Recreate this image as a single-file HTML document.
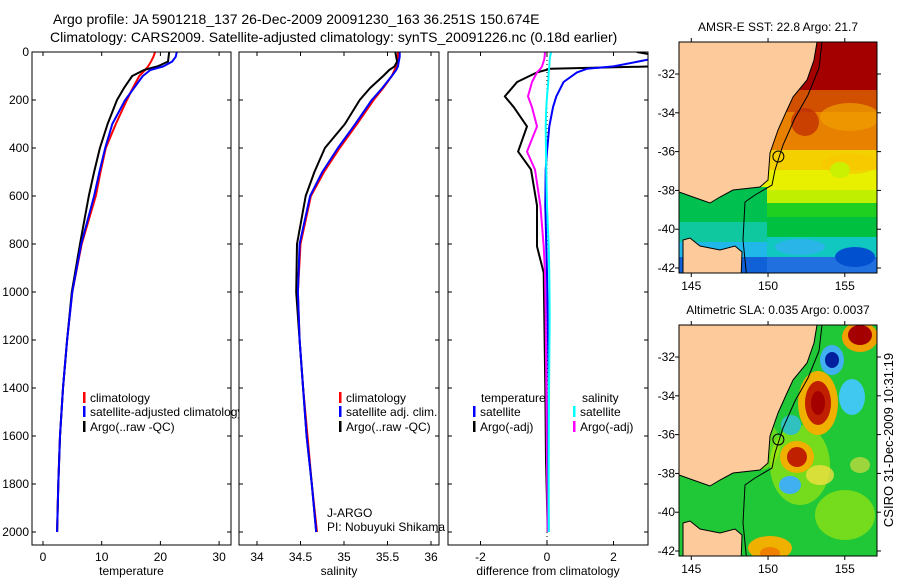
<!DOCTYPE html>
<html><head><meta charset="utf-8"><style>
html,body{margin:0;padding:0;background:#fff;}
svg{display:block;font-family:"Liberation Sans",sans-serif;}
</style></head><body>
<svg id="fig" width="900" height="580" viewBox="0 0 900 580" xmlns="http://www.w3.org/2000/svg">
<rect x="0" y="0" width="900" height="580" fill="#fff"/>
<text x="53" y="24" font-size="14">Argo profile: JA 5901218_137 26-Dec-2009 20091230_163 36.251S 150.674E</text>
<text x="50" y="42" font-size="14">Climatology: CARS2009. Satellite-adjusted climatology: synTS_20091226.nc (0.18d earlier)</text>
<g id="charts"></g>
<g id="maps"></g>
<text x="893" y="440" font-size="13" text-anchor="middle" transform="rotate(-90 893 440)">CSIRO 31-Dec-2009 10:31:19</text>
</svg>
<script>
// ---- data ----
const depths = [0, 20, 40, 60, 75, 100, 150, 200, 300, 400, 500, 600, 800, 1000, 1200, 1400, 1600, 1800, 2000];
const tempClim = [19.1, 18.8, 18.4, 17.9, 17.4, 16.4, 15.3, 14.3, 12.4, 10.7, 9.8, 9.0, 6.6, 5.0, 4.1, 3.4, 2.9, 2.6, 2.4];
const tempSat = [22.8, 22.6, 22.0, 20.5, 18.3, 17.0, 15.5, 14.0, 11.8, 10.6, 9.6, 8.7, 6.5, 5.0, 4.1, 3.4, 2.9, 2.6, 2.4];
const tempArgo = [21.5, 21.4, 21.3, 19.5, 17.2, 15.2, 13.8, 12.6, 11.0, 9.7, 8.7, 7.8, 6.3, 4.9, 4.1, 3.4, 2.9, 2.6, 2.4];
const salClim = [35.62, 35.62, 35.61, 35.6, 35.58, 35.55, 35.45, 35.34, 35.15, 34.95, 34.77, 34.62, 34.5, 34.47, 34.49, 34.53, 34.58, 34.63, 34.69];
const salSat = [35.64, 35.64, 35.63, 35.62, 35.6, 35.55, 35.44, 35.32, 35.13, 34.93, 34.75, 34.61, 34.49, 34.47, 34.49, 34.53, 34.57, 34.63, 34.68];
const salArgo = [35.59, 35.6, 35.61, 35.58, 35.52, 35.45, 35.3, 35.18, 35.01, 34.78, 34.66, 34.56, 34.46, 34.45, 34.49, 34.53, 34.57, 34.63, 34.68];
const diffDepths = [0, 15, 30, 60, 70, 85, 125, 185, 230, 310, 415, 490, 640, 810, 920, 1100, 1400, 1700, 2000];
const dTempSat = [3.4, 3.3, 3.1, 2.0, 1.2, 0.9, 0.5, 0.28, 0.18, 0.07, 0.0, -0.04, -0.05, -0.02, 0.0, 0.02, 0.05, 0.04, 0.05];
const dTempArgo = [2.7, 3.3, 3.3, 3.2, 0.1, -0.3, -0.9, -1.27, -1.0, -0.6, -0.87, -0.48, -0.3, -0.3, -0.1, -0.08, -0.05, -0.03, 0.02];
const dSalSat = [0.12, 0.1, 0.08, 0.07, 0.06, 0.05, 0.04, 0.0, -0.02, -0.04, -0.03, -0.02, 0.0, 0.05, 0.07, 0.08, 0.06, 0.05, 0.05];
const dSalArgo = [-0.06, -0.07, -0.08, -0.15, -0.2, -0.3, -0.45, -0.57, -0.45, -0.3, -0.6, -0.36, -0.2, -0.1, -0.06, -0.04, -0.02, 0.0, 0.02];
const depthTicks = [0, 200, 400, 600, 800, 1000, 1200, 1400, 1600, 1800, 2000];
const tempTicks = [0, 10, 20, 30];
const salTicks = [34, 34.5, 35, 35.5, 36];
const salTickLabels = ["34", "34.5", "35", "35.5", "36"];
const diffTicks = [-2, 0, 2];
const lonTicks = [145, 150, 155];
const latTicks = [-32, -34, -36, -38, -40, -42];

const NS = "http://www.w3.org/2000/svg";
function mk(tag, attrs, parent) {
  const e = document.createElementNS(NS, tag);
  for (const k in attrs) e.setAttribute(k, attrs[k]);
  parent.appendChild(e);
  return e;
}
const charts = document.getElementById('charts');
const yD = d => 52 + d * 0.24;
const TOP = 52, BOT = 545;

function panel(name, x0, x1, xf, ticks, labels, xlabel, showY) {
  const g = mk('g', {}, charts);
  
  
  const bg = mk('rect', {x: x0, y: TOP, width: x1 - x0, height: BOT - TOP, fill: '#fff'}, g);
  
  
  const plot = mk('g', {}, g);
  const clipId = name + '-clip';
  const cp = mk('clipPath', {id: clipId}, g);
  mk('rect', {x: x0, y: TOP, width: x1 - x0, height: BOT - TOP}, cp);
  plot.setAttribute('clip-path', 'url(#' + clipId + ')');
  ticks.forEach((t, i) => {
    const x = xf(t);
    mk('line', {x1: x, x2: x, y1: TOP, y2: TOP + 4, stroke: '#000'}, g);
    mk('line', {x1: x, x2: x, y1: BOT, y2: BOT - 4, stroke: '#000'}, g);
    const tl = mk('text', {x: x, y: BOT + 16, 'font-size': 12, 'text-anchor': 'middle'}, g);
    tl.textContent = labels[i];
    
    
  });
  depthTicks.forEach(d => {
    const y = yD(d);
    mk('line', {x1: x0, x2: x0 + 4, y1: y, y2: y, stroke: '#000'}, g);
    mk('line', {x1: x1, x2: x1 - 4, y1: y, y2: y, stroke: '#000'}, g);
    if (showY) {
      const tl = mk('text', {x: x0 - 3, y: y + 4, 'font-size': 12, 'text-anchor': 'end'}, g);
      tl.textContent = d;
      
      
    }
  });
  const xl = mk('text', {x: (x0 + x1) / 2, y: 575, 'font-size': 12, 'text-anchor': 'middle'}, g);
  xl.textContent = xlabel;
  
  
  return {g, plot, x0, x1};
}
function frame(p, name) {
  const f = mk('rect', {x: p.x0, y: TOP, width: p.x1 - p.x0, height: BOT - TOP, fill: 'none', stroke: '#000'}, p.g);
  
  
}
function line(p, xf, xs, ds, color, name, w) {
  const pts = xs.map((v, i) => xf(v).toFixed(1) + ',' + yD(ds[i]).toFixed(1)).join(' ');
  const l = mk('polyline', {points: pts, fill: 'none', stroke: color, 'stroke-width': w || 2, 'stroke-linejoin': 'round'}, p.plot);
  
  
}
function legend(parent, x, y, color, label, name) {
  const g = mk('g', {}, parent);
  
  
  mk('rect', {x: x, y: y - 10, width: 2.5, height: 11, fill: color}, g);
  const t = mk('text', {x: x + 7, y: y, 'font-size': 12}, g);
  t.textContent = label;
}

// Panel 1: temperature
const xT = v => 43 + v * 5.87;
const p1 = panel('temperature-panel', 32, 231, xT, tempTicks, tempTicks.map(String), 'temperature', true);
line(p1, xT, tempClim, depths, '#ff0000', 'temperature-climatology-line');
line(p1, xT, tempArgo, depths, '#000000', 'temperature-argo-line');
line(p1, xT, tempSat, depths, '#0000ff', 'temperature-satellite-line');
frame(p1, 'temperature-panel');
legend(p1.g, 83, 402, '#ff0000', 'climatology', 'legend-entry-climatology');
legend(p1.g, 83, 416, '#0000ff', 'satellite-adjusted climatology', 'legend-entry-satellite-adjusted');
legend(p1.g, 83, 431, '#000000', 'Argo(..raw -QC)', 'legend-entry-argo');

// Panel 2: salinity
const xS = v => 257 + (v - 34) * 87;
const p2 = panel('salinity-panel', 239, 439, xS, salTicks, salTickLabels, 'salinity', false);
line(p2, xS, salClim, depths, '#ff0000', 'salinity-climatology-line');
line(p2, xS, salArgo, depths, '#000000', 'salinity-argo-line');
line(p2, xS, salSat, depths, '#0000ff', 'salinity-satellite-line');
frame(p2, 'salinity-panel');
legend(p2.g, 339, 402, '#ff0000', 'climatology', 'legend-entry-sal-climatology');
legend(p2.g, 339, 416, '#0000ff', 'satellite adj. clim.', 'legend-entry-sal-satellite');
legend(p2.g, 339, 431, '#000000', 'Argo(..raw -QC)', 'legend-entry-sal-argo');
let t = mk('text', {x: 327, y: 517, 'font-size': 12}, p2.g); t.textContent = 'J-ARGO';


t = mk('text', {x: 327, y: 531, 'font-size': 12}, p2.g); t.textContent = 'PI: Nobuyuki Shikama';



// Panel 3: difference
const xDf = v => 547 + v * 33.25;
const p3 = panel('difference-panel', 448, 648, xDf, diffTicks, diffTicks.map(String), 'difference from climatology', false);
const zl = mk('line', {x1: xDf(0), x2: xDf(0), y1: TOP, y2: BOT, stroke: '#000', 'stroke-dasharray': '1,3'}, p3.plot);


line(p3, xDf, dTempArgo, diffDepths, '#000000', 'diff-temperature-argo-line');
line(p3, xDf, dSalArgo, diffDepths, '#ff00ff', 'diff-salinity-argo-line');
line(p3, xDf, dTempSat, diffDepths, '#0000ff', 'diff-temperature-satellite-line');
line(p3, xDf, dSalSat, diffDepths, '#00ffff', 'diff-salinity-satellite-line');
frame(p3, 'difference-panel');
t = mk('text', {x: 481, y: 402, 'font-size': 12}, p3.g); t.textContent = 'temperature';


t = mk('text', {x: 582, y: 402, 'font-size': 12}, p3.g); t.textContent = 'salinity';


legend(p3.g, 473, 416, '#0000ff', 'satellite', 'legend-entry-temp-satellite');
legend(p3.g, 473, 431, '#000000', 'Argo(-adj)', 'legend-entry-temp-argo');
legend(p3.g, 573, 416, '#00ffff', 'satellite', 'legend-entry-sal-satellite-diff');
legend(p3.g, 573, 431, '#ff00ff', 'Argo(-adj)', 'legend-entry-sal-argo-diff');

// ---- maps ----
const maps = document.getElementById('maps');
const MX0 = 679, MX1 = 877;
const lonX = lon => MX0 + (lon - 144.2) * 15.35;
function map(name, y0, title, blobs, bands, leftBands) {
  const y1 = y0 + 231;
  const latY = lat => y0 + (-30.35 - lat) * 19.4;
  const g = mk('g', {}, maps);
  
  
  const cid = name + '-clip';
  const cp = mk('clipPath', {id: cid}, g);
  mk('rect', {x: MX0, y: y0, width: MX1 - MX0, height: 231}, cp);
  const f = mk('g', {'clip-path': 'url(#' + cid + ')'}, g);
  bands.forEach(b => mk('rect', {x: MX0, y: y0 + b[0], width: MX1 - MX0, height: b[1] - b[0], fill: b[2]}, f));
  leftBands.forEach(b => mk('rect', {x: MX0, y: y0 + b[0], width: 88, height: b[1] - b[0], fill: b[2]}, f));
  blobs.forEach(b => mk('ellipse', {cx: b[0], cy: y0 + b[1], rx: b[2], ry: b[3], fill: b[4], opacity: b[5] || 1}, f));
  const o = y0 - 42;
  const land = [[679,42],[817,42],[814,60],[807,80],[793,97],[787,110],[778,130],[770,153],[768,180],[760,187],[733,190],[720,197],[710,203],[693,197],[679,192]];
  const lp = mk('polygon', {points: land.map(p => p[0] + ',' + (p[1] + o)).join(' '), fill: '#fdcb9b', stroke: '#000', 'stroke-width': 1}, f);
  
  
  const tas = [[683,280],[683,240],[690,238],[700,246],[720,250],[735,246],[742,252],[741,280]];
  const tp = mk('polygon', {points: tas.map(p => p[0] + ',' + (p[1] + o)).join(' '), fill: '#fdcb9b', stroke: '#000', 'stroke-width': 1}, f);
  
  
  const shelf = [[822,42],[819,68],[808,95],[795,118],[783,145],[775,170],[772,185],[755,195],[745,202],[743,240],[747,280]];
  mk('polyline', {points: shelf.map(p => p[0] + ',' + (p[1] + o)).join(' '), fill: 'none', stroke: '#000', 'stroke-width': 1}, f);
  const c = mk('circle', {cx: lonX(150.674), cy: latY(-36.251), r: 5.5, fill: 'none', stroke: '#000', 'stroke-width': 1}, f);
  
  
  mk('rect', {x: MX0, y: y0, width: MX1 - MX0, height: 231, fill: 'none', stroke: '#000'}, g);
  lonTicks.forEach(l => {
    const x = lonX(l);
    mk('line', {x1: x, x2: x, y1: y0, y2: y0 - 4, stroke: '#000'}, g);
    mk('line', {x1: x, x2: x, y1: y1, y2: y1 + 4, stroke: '#000'}, g);
    const tl = mk('text', {x: x, y: y1 + 17, 'font-size': 12, 'text-anchor': 'middle'}, g);
    tl.textContent = l;
    
    
  });
  latTicks.forEach(l => {
    const y = latY(l);
    mk('line', {x1: MX0, x2: MX0 - 4, y1: y, y2: y, stroke: '#000'}, g);
    mk('line', {x1: MX1, x2: MX1 + 4, y1: y, y2: y, stroke: '#000'}, g);
    const tl = mk('text', {x: MX0 - 4, y: y + 4, 'font-size': 12, 'text-anchor': 'end'}, g);
    tl.textContent = l;
    
    
  });
  const tt = mk('text', {x: 778, y: y0 - 11, 'font-size': 12, 'text-anchor': 'middle'}, g);
  tt.textContent = title;
  
  
}
map('sst-map', 42, 'AMSR-E SST: 22.8 Argo: 21.7',
  [[850,75,30,14,'#f0a000',0.7],[805,80,14,14,'#c03000',0.8],[850,122,28,10,'#f8c800',0.7],[840,128,10,8,'#c8f000'],[855,215,20,10,'#0050d0'],[800,205,25,8,'#30b0f0',0.8]],
  [[0,48,'#a50000'],[48,70,'#d05000'],[70,108,'#e88000'],[108,128,'#f5d000'],[128,148,'#e8f000'],[148,161,'#c0f000'],[161,175,'#20d020'],[175,195,'#00c040'],[195,215,'#10c8c0'],[215,231,'#2070e0']],
  [[145,180,'#00c050'],[180,200,'#10c8a0'],[200,215,'#20b8e8'],[215,231,'#1060d8']]);
map('sla-map', 325, 'Altimetric SLA: 0.035 Argo: 0.0037',
  [[800,140,30,40,'#c8f000',0.5],[845,190,30,25,'#c8f000',0.5],[760,120,20,25,'#c8f000',0.4],[818,78,20,32,'#f0b000'],[818,78,13,22,'#c02000'],[818,78,7,12,'#a50000'],
   [797,132,17,16,'#f0b000'],[797,132,10,10,'#c02000'],[860,12,18,15,'#f0a000'],[860,10,12,10,'#a50000'],
   [832,35,12,15,'#40b0f0'],[832,35,7,8,'#0020a0'],[852,72,13,18,'#40c8f0'],[791,100,10,10,'#30c0c0'],[790,160,11,9,'#40b0f0'],
   [770,223,22,12,'#f0b000'],[770,228,10,6,'#f08000'],[820,150,14,10,'#f0e040',0.8],[860,140,10,8,'#f0e040',0.6]],
  [[0,231,'#20c838']], []);
</script>
</body></html>
